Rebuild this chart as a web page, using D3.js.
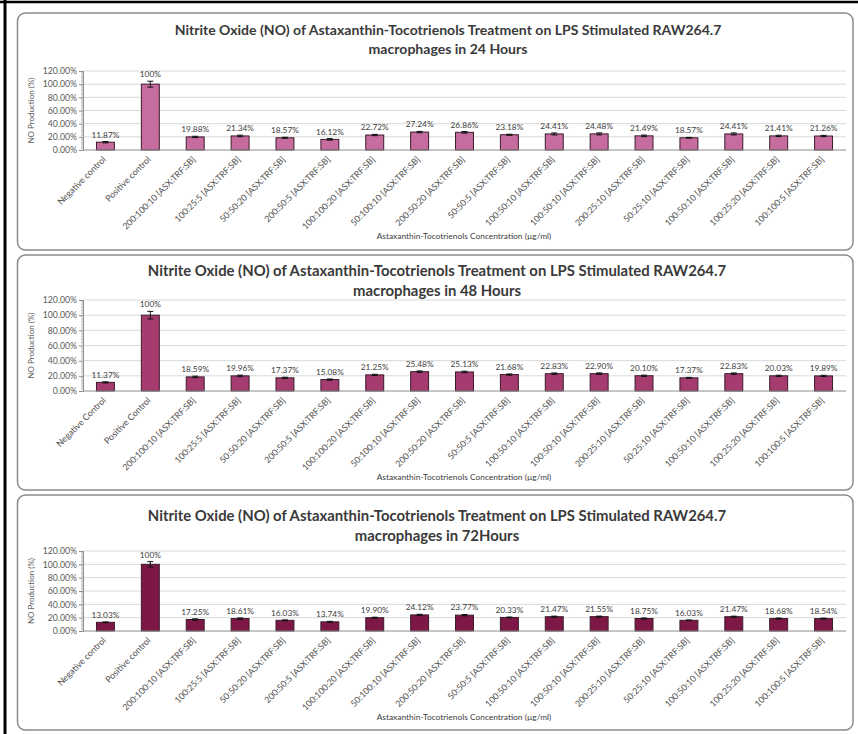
<!DOCTYPE html>
<html>
<head>
<meta charset="utf-8">
<script src="https://cdn.jsdelivr.net/npm/d3@7"></script>
<style>
  html, body { margin: 0; padding: 0; background: #ffffff; }
  svg { display: block; font-family: Lato, "Open Sans", sans-serif; }
</style>
</head>
<body>
<svg id="chart" width="858" height="734"></svg>
<script>
// Treatment groups (x-axis categories)
const categories24 = ["Negative control", "Positive control", "200:100:10 [ASX:TRF:SB]", "100:25:5 [ASX:TRF:SB]",
  "50:50:20 [ASX:TRF:SB]", "200:50:5 [ASX:TRF:SB]", "100:100:20 [ASX:TRF:SB]", "50:100:10 [ASX:TRF:SB]",
  "200:50:20 [ASX:TRF:SB]", "50:50:5 [ASX:TRF:SB]", "100:50:10 [ASX:TRF:SB]", "100:50:10 [ASX:TRF:SB]",
  "200:25:10 [ASX:TRF:SB]", "50:25:10 [ASX:TRF:SB]", "100:50:10 [ASX:TRF:SB]", "100:25:20 [ASX:TRF:SB]",
  "100:100:5 [ASX:TRF:SB]"];
const categories48 = ["Negative Control", "Positive Control"].concat(categories24.slice(2));
const categories72 = categories24.slice();

// NO production (%) per treatment
const values24 = [11.87, 100, 19.88, 21.34, 18.57, 16.12, 22.72, 27.24, 26.86, 23.18, 24.41, 24.48, 21.49, 18.57, 24.41, 21.41, 21.26];
const values48 = [11.37, 100, 18.59, 19.96, 17.37, 15.08, 21.25, 25.48, 25.13, 21.68, 22.83, 22.90, 20.10, 17.37, 22.83, 20.03, 19.89];
const values72 = [13.03, 100, 17.25, 18.61, 16.03, 13.74, 19.90, 24.12, 23.77, 20.33, 21.47, 21.55, 18.75, 16.03, 21.47, 18.68, 18.54];

// Standard error of each group
const errors24 = [1.0, 4.5, 1.0, 1.2, 0.8, 1.2, 1.0, 1.0, 1.2, 0.8, 1.5, 1.5, 1.2, 0.6, 1.5, 1.0, 1.0];
const errors48 = [0.8, 5.0, 1.0, 1.0, 0.8, 0.8, 0.8, 1.0, 1.0, 0.8, 1.0, 1.0, 0.8, 0.6, 1.0, 0.8, 0.8];
const errors72 = [0.6, 4.0, 1.0, 1.0, 0.6, 0.8, 0.8, 1.0, 1.0, 0.6, 0.8, 0.8, 0.8, 0.5, 0.8, 0.8, 0.8];

// Y-axis ticks
const yTicks = [0, 20, 40, 60, 80, 100, 120];

const titleLine1 = "Nitrite Oxide (NO) of Astaxanthin-Tocotrienols Treatment on LPS Stimulated RAW264.7";
const titles2 = ["macrophages in 24 Hours", "macrophages in 48 Hours", "macrophages in 72Hours"];
const yAxisTitle = "NO Production (%)";
const xAxisTitle = "Astaxanthin-Tocotrienols Concentration (µg/ml)";

const panels = [
  { cats: categories24, vals: values24, errs: errors24, title2: titles2[0], color: "#c66c9e",
    box: [13, 250], t1: 35, t2: 54, tx: 448, tw: 547, yTop: 71, yZero: 150, axY: 239 },
  { cats: categories48, vals: values48, errs: errors48, title2: titles2[1], color: "#a63b70",
    box: [255, 490], t1: 276, t2: 296, tx: 437, tw: 579, yTop: 300, yZero: 391, axY: 480 },
  { cats: categories72, vals: values72, errs: errors72, title2: titles2[2], color: "#7d1846",
    box: [495, 730], t1: 521, t2: 541, tx: 437, tw: 579, yTop: 551, yZero: 631, axY: 720 }
];

const svg = d3.select("#chart");

// page frame (left and top rules)
svg.append("line").attr("x1", 5).attr("x2", 5).attr("y1", 0).attr("y2", 734)
  .attr("stroke", "#000").attr("stroke-width", 3);
svg.append("line").attr("x1", 0).attr("x2", 858).attr("y1", 2).attr("y2", 2)
  .attr("stroke", "#000").attr("stroke-width", 2.5);

const plotLeft = 83, plotRight = 846;

panels.forEach(p => {
  const g = svg.append("g");

  // rounded chart frame
  g.append("rect")
    .attr("x", 17.5).attr("y", p.box[0])
    .attr("width", 853 - 17.5).attr("height", p.box[1] - p.box[0])
    .attr("rx", 8).attr("ry", 8)
    .attr("fill", "#fff").attr("stroke", "#8a8a8a").attr("stroke-width", 1.5);

  // title, fitted to its line width
  const t1 = g.append("text").attr("x", p.tx).attr("y", p.t1)
    .attr("text-anchor", "middle").attr("font-weight", 700).attr("font-size", 14)
    .attr("fill", "#3a3a3a").text(titleLine1);
  const fs = 14 * p.tw / t1.node().getComputedTextLength();
  t1.attr("font-size", fs);
  g.append("text").attr("x", p.tx).attr("y", p.t2)
    .attr("text-anchor", "middle").attr("font-weight", 700).attr("font-size", fs)
    .attr("fill", "#3a3a3a").text(p.title2);

  const x = d3.scaleBand().domain(d3.range(p.cats.length))
    .range([plotLeft, plotRight]).paddingInner(0.6).paddingOuter(0.3);
  const y = d3.scaleLinear().domain([0, 120]).range([p.yZero, p.yTop]);

  // gridlines
  g.append("g").selectAll("line").data(yTicks.slice(1)).join("line")
    .attr("x1", plotLeft).attr("x2", plotRight)
    .attr("y1", d => y(d)).attr("y2", d => y(d))
    .attr("stroke", "#d9d9d9").attr("stroke-width", 1);

  // y axis with major labels
  const yAxis = d3.axisLeft(y).tickValues(yTicks).tickSize(4).tickFormat(d => d.toFixed(2) + "%");
  const ya = g.append("g").attr("transform", `translate(${plotLeft},0)`).call(yAxis);
  ya.select(".domain").attr("stroke", "#8c8c8c");
  ya.selectAll(".tick line").attr("stroke", "#8c8c8c");
  ya.selectAll(".tick text").attr("font-size", 8.7).attr("fill", "#595959")
    .attr("font-family", "Lato, sans-serif").attr("x", -6);

  // minor ticks
  const minor = d3.range(0, 121, 2).filter(v => v % 20 !== 0);
  g.append("g").selectAll("line").data(minor).join("line")
    .attr("x1", plotLeft - 2).attr("x2", plotLeft)
    .attr("y1", d => y(d)).attr("y2", d => y(d))
    .attr("stroke", "#a0a0a0").attr("stroke-width", 0.6);

  // y axis title
  g.append("text")
    .attr("transform", `translate(34,${(p.yTop + p.yZero) / 2}) rotate(-90)`)
    .attr("text-anchor", "middle").attr("font-size", 8).attr("fill", "#595959")
    .text(yAxisTitle);

  // bars
  g.append("g").selectAll("rect").data(p.vals).join("rect")
    .attr("x", (d, i) => x(i)).attr("width", x.bandwidth())
    .attr("y", d => y(d)).attr("height", d => y(0) - y(d))
    .attr("fill", p.color).attr("stroke", "#3a1c2b").attr("stroke-width", 1);

  // error bars
  const eb = g.append("g").attr("stroke", "#111").attr("stroke-width", 1);
  p.vals.forEach((v, i) => {
    const cx = x(i) + x.bandwidth() / 2, e = p.errs[i];
    eb.append("line").attr("x1", cx).attr("x2", cx).attr("y1", y(v - e)).attr("y2", y(v + e));
    eb.append("line").attr("x1", cx - 3).attr("x2", cx + 3).attr("y1", y(v + e)).attr("y2", y(v + e));
    eb.append("line").attr("x1", cx - 3).attr("x2", cx + 3).attr("y1", y(v - e)).attr("y2", y(v - e));
  });

  // x axis baseline
  g.append("line").attr("x1", plotLeft).attr("x2", plotRight)
    .attr("y1", y(0)).attr("y2", y(0)).attr("stroke", "#8c8c8c");

  // value labels
  g.append("g").selectAll("text").data(p.vals).join("text")
    .attr("x", (d, i) => x(i) + x.bandwidth() / 2)
    .attr("y", (d, i) => y(d + p.errs[i]) - 4)
    .attr("text-anchor", "middle").attr("font-size", 8.3).attr("fill", "#404040")
    .text(d => d === 100 ? "100%" : d.toFixed(2) + "%");

  // rotated category labels
  g.append("g").selectAll("text").data(p.cats).join("text")
    .attr("transform", (d, i) => `translate(${x(i) + x.bandwidth() / 2 + 1},${y(0) + 10}) rotate(-45)`)
    .attr("text-anchor", "end").attr("font-size", 8.8).attr("fill", "#505050")
    .text(d => d);

  // x axis title
  g.append("text").attr("x", 464).attr("y", p.axY)
    .attr("text-anchor", "middle").attr("font-size", 8.4).attr("fill", "#404040")
    .text(xAxisTitle);
});
</script>
</body>
</html>
